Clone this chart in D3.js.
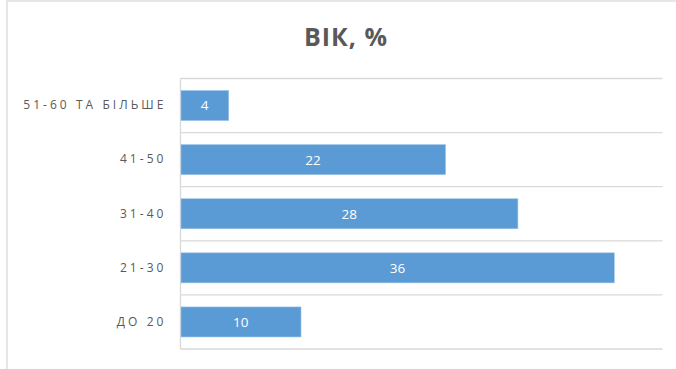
<!DOCTYPE html>
<html lang="uk">
<head>
<meta charset="UTF-8">
<title>Вік</title>
<style>
    body { margin: 0; background: #fff; }
    .grid line { stroke: #d9d9d9; stroke-width: 1.3; }
    .cat text { font-family: "Open Sans", sans-serif; font-size: 12px; fill: #595959; letter-spacing: 3.05px; }
    .val { font-family: "Open Sans", sans-serif; font-size: 13.5px; fill: #fff; }
</style>
</head>
<body>
<script src="https://d3js.org/d3.v7.min.js"></script>
<script>
    // data
    var categories = ["51-60 ТА БІЛЬШЕ", "41-50", "31-40", "21-30", "ДО 20"];
    var values = [4, 22, 28, 36, 10];
    var xMax = 40;
    var title = "ВІК, %";

    var W = 676, H = 369;
    var margin = {top: 78.5, right: 14, bottom: 20, left: 180.5};
    var width = 662.5 - margin.left,
        height = 349 - margin.top;

    var svg = d3.select("body").append("svg")
        .attr("width", W)
        .attr("height", H);

    // chart border (only left and top visible)
    svg.append("rect")
        .attr("x", 7).attr("y", 1)
        .attr("width", W + 20).attr("height", H + 20)
        .attr("fill", "none")
        .attr("stroke", "#d9d9d9")
        .attr("stroke-width", 1.3);

    svg.append("text")
        .attr("x", 346).attr("y", 46)
        .attr("text-anchor", "middle")
        .style("font-family", "'Open Sans', sans-serif")
        .style("font-size", "25px")
        .style("font-weight", "bold")
        .style("letter-spacing", "1px")
        .style("fill", "#595959")
        .text(title);

    var x = d3.scaleLinear().domain([0, xMax]).range([0, width]);
    var y = d3.scaleBand().domain(categories).range([0, height]).paddingInner(0.445).paddingOuter(0.2225);

    var g = svg.append("g")
        .attr("transform", "translate(" + margin.left + "," + margin.top + ")");

    // horizontal gridlines at band boundaries
    var bounds = d3.range(categories.length + 1).map(function(i) { return i * height / categories.length; });
    g.append("g").attr("class", "grid")
        .selectAll("line")
        .data(bounds)
        .enter().append("line")
        .attr("x1", 0).attr("x2", width)
        .attr("y1", function(d) { return d; })
        .attr("y2", function(d) { return d; });

    // vertical axis line
    g.append("g").attr("class", "grid")
        .append("line")
        .attr("x1", 0).attr("x2", 0)
        .attr("y1", 0).attr("y2", height);

    var yAxis = g.append("g")
        .attr("class", "cat")
        .call(d3.axisLeft(y).tickSize(0).tickPadding(14));
    yAxis.select(".domain").remove();

    var rows = categories.map(function(c, i) { return {cat: c, val: values[i]}; });

    g.selectAll(".bar")
        .data(rows)
        .enter().append("rect")
        .attr("class", "bar")
        .attr("x", 0.5)
        .attr("y", function(d) { return y(d.cat); })
        .attr("width", function(d) { return x(d.val) - 0.5; })
        .attr("height", y.bandwidth())
        .attr("fill", "#5b9bd5")
        .attr("stroke", "#9dc3e6")
        .attr("stroke-width", 0.6);

    g.selectAll(".val")
        .data(rows)
        .enter().append("text")
        .attr("class", "val")
        .attr("x", function(d) { return x(d.val) / 2; })
        .attr("y", function(d) { return y(d.cat) + y.bandwidth() / 2; })
        .attr("dy", "0.36em")
        .attr("text-anchor", "middle")
        .text(function(d) { return d.val; });
</script>
</body>
</html>
